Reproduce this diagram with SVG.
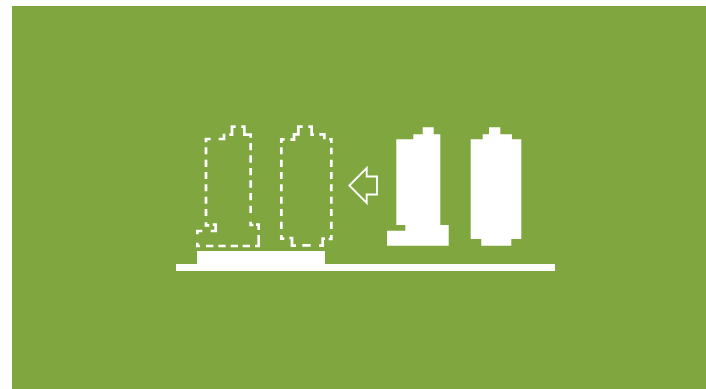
<svg xmlns="http://www.w3.org/2000/svg" width="706" height="389" viewBox="0 0 706 389">
<style>
.bg{fill:#80a640}
.solid{fill:#fff}
.dash{fill:none;stroke:#fff;stroke-width:8.2}
.arrow{fill:none;stroke:#fff;stroke-width:1.9}
</style>
<rect width="706" height="389" fill="#fff"/>
<rect class="bg" x="12" y="6" width="694" height="383"/>
<g id="platform"><rect class="solid" x="176" y="264" width="379" height="7"/><rect class="solid" x="197" y="251" width="128" height="13"/></g>
<g id="outline-left" transform="translate(170 115) scale(.33333)"><path class="dash" d="M108 82V72H122M146 72H162V56M178 59H186V35H197M214 35H223V59H242V68M242 84V106M242 121V143M242 159V181M242 196V218M242 234V256M242 272V294M242 320V330H250M258 329H266V345M266 360V393H255M240 393H218M204 393H182M167 393H145M130 393H108M90 393H82V383M82 358V348H97M122 348H137V329H128M118 331H108V322M108 303V282M108 266V245M108 229V208M108 192V171M108 156V134M108 118V97"/></g>
<g id="outline-right" transform="translate(170 115) scale(.33333)"><path class="dash" d="M334 84V73H344M361 74H372V58H385V35H398M415 35H425V59H432M448 58H463V73M478 73H484V84M484 98V118M484 134V156M484 171V192M484 208V229M484 245V266M484 282V303M484 320V342M484 360V372H476M465 371H458V392H447M422 391H397M378 392H366V369H358M343 371H334V360M334 342V320M334 303V282M334 266V245M334 229V208M334 192V171M334 156V134M334 118V97"/></g>
<g id="arrow"><path class="arrow" d="M349.300 185.500L366.700 168V176.500H377V194.500H366.700V203Z"/></g>
<g id="solid-left"><path class="solid" d="M396.300 139.300H413.300V134.300H422.700V127.300H433.700V134.300H440.300V225H448.700V245.700H387V230.700H405.300V225H396.300Z"/></g>
<g id="solid-right"><path class="solid" d="M470.700 139.300H482.700V134.300H489V127.300H500.300V134.300H512V139.300H521.300V239H511.300V245.700H481.300V239H470.700Z"/></g>
</svg>
